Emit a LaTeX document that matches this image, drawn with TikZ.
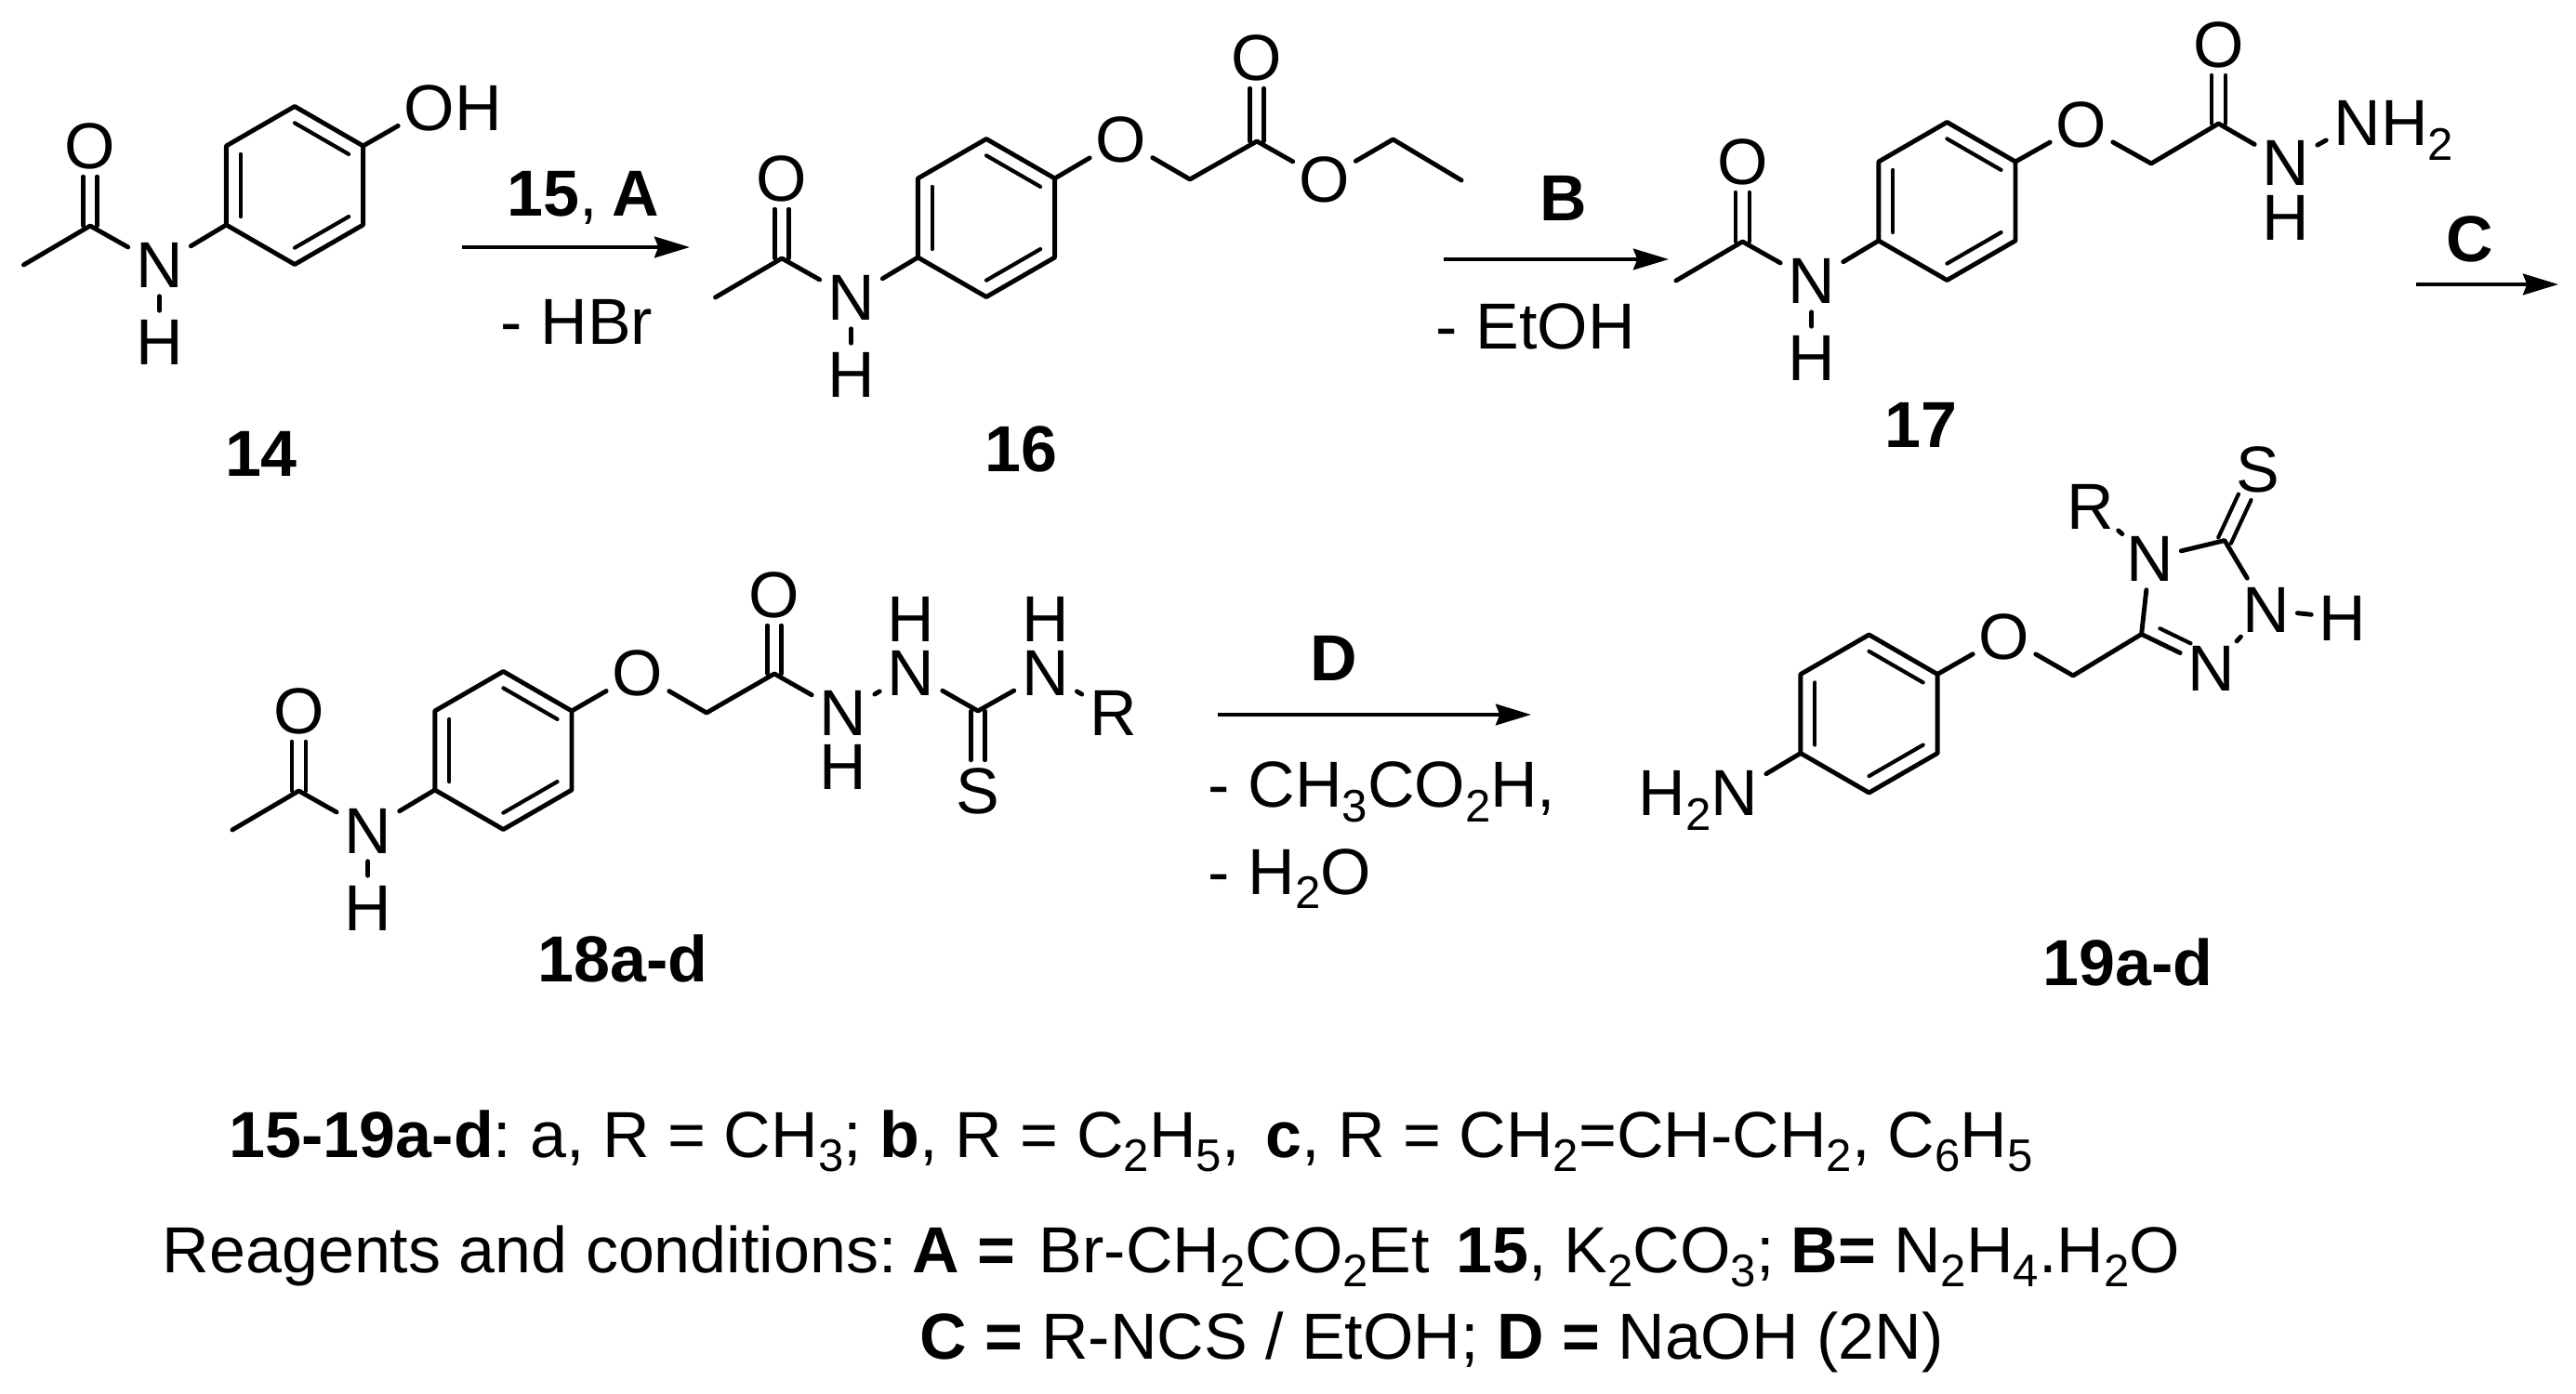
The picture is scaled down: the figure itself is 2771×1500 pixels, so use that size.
\documentclass[tikz,border=0pt]{standalone}
\usepackage{fontspec}
\setmainfont{Liberation Sans}
\usetikzlibrary{calc,arrows.meta}
\newcommand{\chemsub}[1]{\raisebox{-3.8pt}{\fontsize{11.8pt}{12pt}\selectfont #1}}
\tikzset{
  bond/.style={line width=1.18pt,line cap=round,line join=round},
  thinbond/.style={line width=1pt,line cap=round},
  atom/.style={rectangle,inner sep=0pt,minimum width=15.84pt,minimum height=15.84pt,text height=12pt,text depth=0pt,font=\fontsize{16.8pt}{20pt}\selectfont},
  txt/.style={inner sep=0pt,anchor=base west,font=\fontsize{16.8pt}{20pt}\selectfont},
  ctxt/.style={inner sep=0pt,anchor=base,font=\fontsize{16.8pt}{20pt}\selectfont\bfseries},
  rxn/.style={line width=1.1pt,-{Stealth[length=9.1pt,width=5.4pt,inset=1pt]}}
}
% double bond from a carbon to a labelled atom
\newcommand{\dblbond}[2]{%
  \draw[thinbond,shorten >=7.9pt] ($(#1)!1.8pt!90:(#2)$) -- ($(#2)!1.8pt!-90:(#1)$);
  \draw[thinbond,shorten >=7.9pt] ($(#1)!1.8pt!-90:(#2)$) -- ($(#2)!1.8pt!90:(#1)$);}
% benzene ring: prefix, centre x, centre y
\newcommand{\benzring}[3]{%
  \coordinate (#1c) at ({#2},{#3});
  \coordinate (#11) at ({#2},{#3-85});
  \coordinate (#12) at ({#2+73.6},{#3-42.5});
  \coordinate (#13) at ({#2+73.6},{#3+42.5});
  \coordinate (#14) at ({#2},{#3+85});
  \coordinate (#15) at ({#2-73.6},{#3+42.5});
  \coordinate (#16) at ({#2-73.6},{#3-42.5});
  \draw[bond] (#11) -- (#12) -- (#13) -- (#14) -- (#15) -- (#16) -- cycle;
  \draw[thinbond] ($(#16)!.21!(#1c)$) -- ($(#15)!.21!(#1c)$);
  \draw[thinbond] ($(#11)!.21!(#1c)$) -- ($(#12)!.21!(#1c)$);
  \draw[thinbond] ($(#13)!.21!(#1c)$) -- ($(#14)!.21!(#1c)$);}
% acetanilide fragment: prefix, dx, dy
\newcommand{\acetarene}[3]{%
  \benzring{#1}{317+#2}{199.5+#3}
  \coordinate (#1me) at ({25.5+#2},{285+#3});
  \coordinate (#1co) at ({97+#2},{243+#3});
  \node[atom] (#1O) at ({97+#2},{157+#3}) {O};
  \node[atom] (#1N) at ({171.5+#2},{285+#3}) {N};
  \node[atom] (#1H) at ({171.5+#2},{368+#3}) {H};
  \draw[bond] (#1me) -- (#1co) -- (#1N) -- (#15);
  \draw[bond] (#1N) -- (#1H);
  \dblbond{#1co}{#1O}}
\begin{document}
\begin{tikzpicture}[x=0.24pt,y=-0.24pt]
\useasboundingbox (0,0) rectangle (2771,1500);
\fill[white] (0,0) rectangle (2771,1500);

% 14
\acetarene{a}{0}{0}
\node[atom] (aOH) at (462,116) {O\rlap{H}};
\draw[bond] (a2) -- (aOH);
\node[ctxt] (l14) at (281,513) {14};

% arrow A
\coordinate (ax1) at (497,266);
\coordinate (ax2) at (742,266);
\draw[rxn] (ax1) -- (ax2);
\node[txt] (ta) at (545,233) {\textbf{15},\hspace{-1pt} \textbf{A}};
\node[txt] (tb) at (538,371) {- HBr};

% 16
\acetarene{b}{744}{35}
\node[atom] (bOe) at (1206,150) {O};
\coordinate (bch) at (1280,193);
\coordinate (bco) at (1352,152);
\node[atom] (bOd) at (1352,62) {O};
\node[atom] (bOs) at (1424.5,193) {O};
\coordinate (bet) at (1498.5,150);
\coordinate (bme2) at (1572,194);
\draw[bond] (b2) -- (bOe) -- (bch) -- (bco) -- (bOs) -- (bet) -- (bme2);
\dblbond{bco}{bOd}
\node[ctxt] (l16) at (1098,508) {16};

% arrow B
\coordinate (bx1) at (1553,279);
\coordinate (bx2) at (1795,279);
\draw[rxn] (bx1) -- (bx2);
\node[ctxt] (tB) at (1682,238) {B};
\node[txt] (tEt) at (1544,376) {- EtOH};

% 17
\acetarene{c}{1777.4}{17}
\node[atom] (cOe) at (2239,134) {O};
\coordinate (cch) at (2314,176);
\coordinate (cco) at (2386.5,133);
\node[atom] (cOd) at (2386.5,48) {O};
\node[atom] (cNa) at (2459,175) {N};
\node[atom] (cHa) at (2459,234) {H};
\node[atom] (cNb) at (2536,132) {N\rlap{H\chemsub{2}}};
\draw[bond] (c2) -- (cOe) -- (cch) -- (cco) -- (cNa) -- (cNb);
\dblbond{cco}{cOd}
\node[ctxt] (l17) at (2066,482) {17};

% arrow C
\coordinate (cx1) at (2599,306);
\coordinate (cx2) at (2752,306);
\draw[rxn] (cx1) -- (cx2);
\node[ctxt] (tC) at (2657,282) {C};

% 18
\acetarene{d}{224.4}{608}
\node[atom] (dOe) at (686,724) {O};
\coordinate (dch) at (760,767);
\coordinate (dco) at (833,725);
\node[atom] (dOd) at (833,640) {O};
\node[atom] (dNa) at (907,767) {N};
\node[atom] (dHa) at (907,825) {H};
\node[atom] (dNb) at (980,724) {N};
\node[atom] (dHb) at (980,666) {H};
\coordinate (dcs) at (1052,765);
\node[atom] (dS) at (1052,851) {S};
\node[atom] (dNc) at (1124.6,724) {N};
\node[atom] (dHc) at (1124.6,666) {H};
\node[atom] (dR) at (1197.5,767) {R};
\draw[bond] (d2) -- (dOe) -- (dch) -- (dco) -- (dNa) -- (dNb) -- (dcs) -- (dNc) -- (dR);
\dblbond{dco}{dOd}
\dblbond{dcs}{dS}
\node[ctxt] (l18) at (670,1056) {18a-d};

% arrow D
\coordinate (dx1) at (1310,769);
\coordinate (dx2) at (1647,769);
\draw[rxn] (dx1) -- (dx2);
\node[ctxt] (tD) at (1435,733) {D};
\node[txt] (tAc) at (1299,869) {- CH\chemsub{3}CO\chemsub{2}H,};
\node[txt] (tW) at (1299,962) {- H\chemsub{2}O};

% 19
\benzring{e}{2010.5}{768}
\node[atom] (eNa) at (1866,853) {\llap{H\chemsub{2}}N};
\node[atom] (eOe) at (2156,684.5) {O};
\coordinate (ech) at (2230,727);
\coordinate (ecn) at (2303.6,682.4);
\node[atom] (eNb) at (2379,719) {N};
\node[atom] (eNc) at (2312.5,601) {N};
\coordinate (ecs) at (2393,581.6);
\node[atom] (eS) at (2428.6,505) {S};
\node[atom] (eR) at (2249,544.5) {R};
\node[atom] (eNd) at (2437.5,656) {N};
\node[atom] (eH) at (2520,665) {H};
\draw[bond] (e5) -- (eNa);
\draw[bond] (e2) -- (eOe) -- (ech) -- (ecn) -- (eNc) -- (ecs) -- (eNd) -- (eH);
\draw[bond] (ecn) -- (eNb);
\draw[bond] (eNb) -- (eNd);
\draw[bond] (eNc) -- (eR);
\dblbond{ecs}{eS}
\coordinate (ei1) at ($(ecn)!3.4pt!90:(eNb)$);
\coordinate (ei2) at ($(eNb)!3.4pt!-90:(ecn)$);
\draw[thinbond] ($(ei1)!.18!(ei2)$) -- ($(ei1)!.62!(ei2)$);
\node[ctxt] (l19) at (2289,1060) {19a-d};

% footnotes
\node[txt] (n1) at (246,1245) {\textbf{15-19a-d}:\hspace{-1.3pt} a, R = CH\chemsub{3}; \textbf{b}, R = C\chemsub{2}H\chemsub{5},\hspace{2.1pt} \textbf{c}, R = CH\chemsub{2}=CH-CH\chemsub{2}, C\chemsub{6}H\chemsub{5}};
\node[txt] (n2) at (174,1369) {Reagents and conditions:\hspace{-2.1pt} \textbf{A =}\hspace{1.3pt} Br-CH\chemsub{2}CO\chemsub{2}Et\hspace{2.1pt} \textbf{15}, K\chemsub{2}CO\chemsub{3};\hspace{-0.4pt} \textbf{B=} N\chemsub{2}H\chemsub{4}.H\chemsub{2}O};
\node[txt] (n3) at (989,1462) {\textbf{C =} R-NCS / EtOH; \textbf{D =} NaOH (2N)};
\end{tikzpicture}
\end{document}
